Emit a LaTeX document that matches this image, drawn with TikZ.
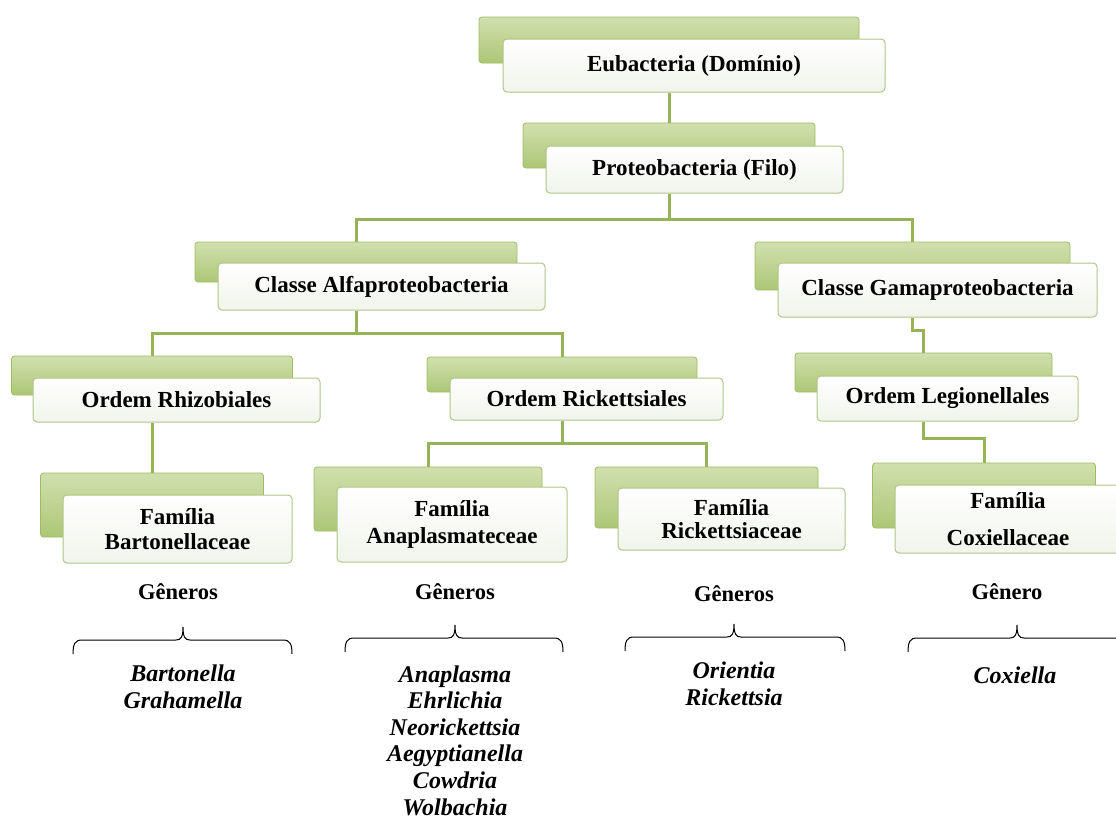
\documentclass[tikz,border=0pt]{standalone}
\usepackage{fontspec}
\setmainfont{Liberation Serif}
\pgfdeclarelayer{bg}
\pgfsetlayers{bg,main}
\definecolor{gtop}{RGB}{208,224,174}
\definecolor{gbot}{RGB}{172,199,118}
\definecolor{gline}{RGB}{158,188,98}
\definecolor{wline}{RGB}{175,198,135}
\definecolor{wbot}{RGB}{241,244,236}
\definecolor{conncol}{RGB}{150,180,85}
\newcommand{\gbrace}[4]{%
  \draw[brc] (#1,#4+14) .. controls (#1,#4+4) and (#1+2,#4) .. (#1+9,#4)
    -- (#2-7,#4) .. controls (#2-2,#4) and (#2,#4-3) .. (#2,#4-13)
    .. controls (#2,#4-3) and (#2+2,#4) .. (#2+7,#4)
    -- (#3-9,#4) .. controls (#3-2,#4) and (#3,#4+4) .. (#3,#4+14);}
\begin{document}
\begin{tikzpicture}[x=1pt,y=-1pt,
  gback/.style={draw=gline, line width=0.8pt, rounded corners=3pt, top color=gtop, bottom color=gbot, inner sep=0pt},
  wfront/.style={draw=wline, line width=1pt, rounded corners=4pt, top color=white, bottom color=wbot, inner sep=0pt, font=\fontsize{23}{25}\selectfont\bfseries, align=center, text=black},
  conn/.style={draw=conncol, line width=3pt},
  gen/.style={font=\fontsize{22.5}{25}\selectfont\bfseries, inner sep=0pt},
  genus/.style={font=\fontsize{24}{26.6}\selectfont\bfseries\itshape, inner sep=0pt, align=center},
  brc/.style={draw=black, line width=1pt}
]
\useasboundingbox (0,0) rectangle (1116,827);

% ---- boxes ----
\node[gback, minimum width=380pt, minimum height=46pt] (eubG) at (669,40) {};
\node[wfront, minimum width=382pt, minimum height=53pt] (eub) at (694,65.5) {Eubacteria (Domínio)};

\node[gback, minimum width=292pt, minimum height=45pt] (proG) at (669,145.5) {};
\node[wfront, minimum width=297pt, minimum height=47pt] (pro) at (694.5,169.5) {Proteobacteria (Filo)};

\node[gback, minimum width=322pt, minimum height=40pt] (alfG) at (356,262) {};
\node[wfront, minimum width=327pt, minimum height=47pt] (alf) at (381.5,286.5) {Classe Alfaproteobacteria};

\node[gback, minimum width=315pt, minimum height=48pt] (gamG) at (912.5,266) {};
\node[wfront, minimum width=319pt, minimum height=54pt] (gam) at (937.5,290) {Classe Gamaproteobacteria};

\node[gback, minimum width=281pt, minimum height=39pt] (rhiG) at (152,375.5) {};
\node[wfront, minimum width=287pt, minimum height=44pt] (rhi) at (176.5,400) {Ordem Rhizobiales};

\node[gback, minimum width=270pt, minimum height=35pt] (ricG) at (562,374.5) {};
\node[wfront, minimum width=273pt, minimum height=42pt] (ric) at (586.5,399) {Ordem Rickettsiales};

\node[gback, minimum width=257pt, minimum height=39pt] (legG) at (923.5,372.5) {};
\node[wfront, minimum width=261pt, minimum height=45pt] (leg) at (947.5,398.5) {Ordem Legionellales};

\node[gback, minimum width=223pt, minimum height=64pt] (barG) at (152,505) {};
\node[wfront, minimum width=229pt, minimum height=68pt] (bar) at (177.5,529) {Família\\Bartonellaceae};

\node[gback, minimum width=228pt, minimum height=64pt] (anaG) at (428,499) {};
\node[wfront, minimum width=230pt, minimum height=75pt] (ana) at (452,524.5) {Família\\[2pt]Anaplasmateceae};

\node[gback, minimum width=223pt, minimum height=61pt] (rfaG) at (706.5,497.5) {};
\node[wfront, minimum width=227pt, minimum height=62pt] (rfa) at (731.5,519) {Família\\[-2pt]Rickettsiaceae};

\node[gback, minimum width=223pt, minimum height=65pt] (coxG) at (984,495.5) {};
\node[wfront, minimum width=226pt, minimum height=68pt] (cox) at (1008,519) {Família\\[12pt]Coxiellaceae};

% ---- junctions ----
\coordinate (j1) at (669,219);
\coordinate (j2) at (356,333);
\coordinate (j3) at (912.5,330);
\coordinate (j4) at (562,443);
\coordinate (j5) at (923.5,438);

% ---- connectors ----
\begin{pgfonlayer}{bg}
\draw[conn] (eub.south -| eubG.center) -- (proG.north);
\draw[conn] (pro.south -| j1) -- (j1);
\draw[conn] (alfG.north) |- (j1) -| (gamG.north);
\draw[conn] (alf.south -| j2) -- (j2);
\draw[conn] (rhiG.north) |- (j2) -| (ricG.north);
\draw[conn] (gam.south -| j3) -- (j3) -| (legG.north);
\draw[conn] (rhi.south -| rhiG.center) -- (barG.north);
\draw[conn] (ric.south -| j4) -- (j4);
\draw[conn] (anaG.north) |- (j4) -| (rfaG.north);
\draw[conn] (leg.south -| j5) -- (j5) -| (coxG.north);
\end{pgfonlayer}

% ---- genera labels ----
\node[gen] (g1) at (178,592) {Gêneros};
\node[gen] (g2) at (455,592) {Gêneros};
\node[gen] (g3) at (734,594) {Gêneros};
\node[gen] (g4) at (1007,592) {Gênero};

\gbrace{73}{183}{292}{640}
\gbrace{345}{455}{563}{638}
\gbrace{625}{734}{845}{637}
\gbrace{908}{1017}{1130}{638}

\node[genus] (l1) at (183,686.5) {Bartonella\\Grahamella};
\node[genus] (l2) at (455,740.5) {Anaplasma\\Ehrlichia\\Neorickettsia\\Aegyptianella\\Cowdria\\Wolbachia};
\node[genus] (l3) at (734,683.5) {Orientia\\Rickettsia};
\node[genus] (l4) at (1015,675) {Coxiella};
\end{tikzpicture}
\end{document}
